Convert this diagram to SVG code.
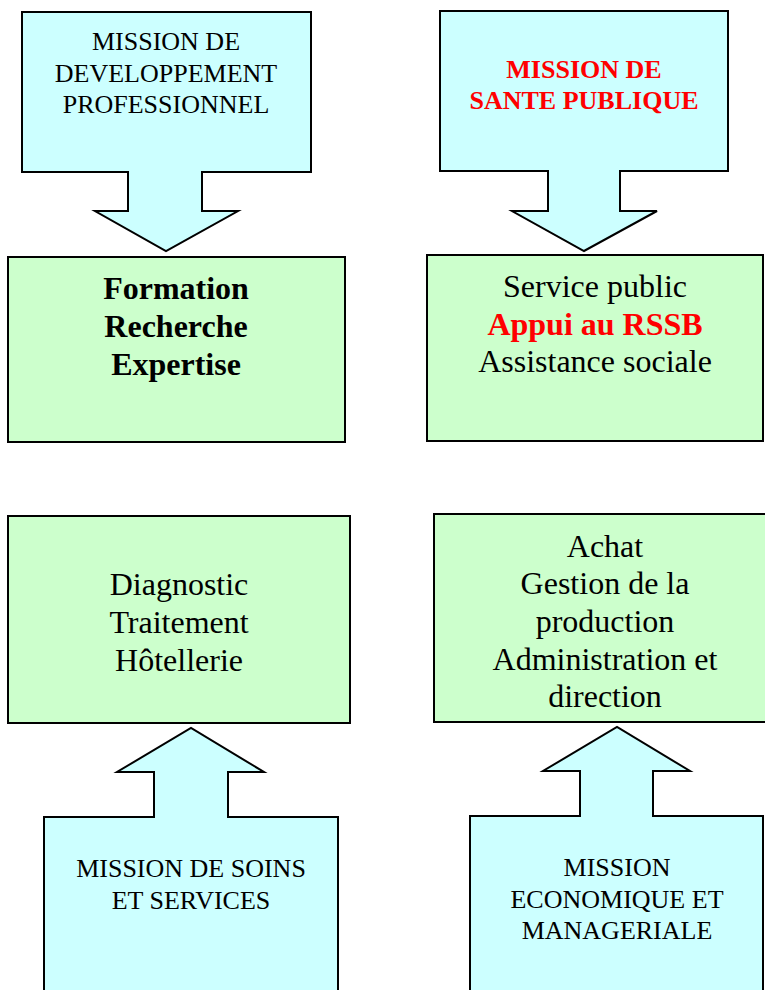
<svg xmlns="http://www.w3.org/2000/svg" width="765" height="990" viewBox="0 0 765 990">
<style>
.call{fill:#CCFFFF;stroke:#000;stroke-width:2;stroke-linejoin:miter}
.box{fill:#CCFFCC;stroke:#000;stroke-width:2}
text{font-family:"Liberation Serif","Times New Roman",serif;text-anchor:middle;fill:#000}
.m{font-size:26px}
.mb{font-size:26px;font-weight:bold;fill:#FF0000}
.g{font-size:32px}
.gb{font-size:32px;font-weight:bold}
.red{fill:#FF0000}
</style>
<rect width="765" height="990" fill="#fff"/>
<g id="mission-dev">
<path class="call" d="M22,12 H311 V172 H202 V211 H238 L166,251 L95,211 H128 V172 H22 Z"/>
<text class="m" x="166" y="50">MISSION DE</text>
<text class="m" x="166" y="82">DEVELOPPEMENT</text>
<text class="m" x="166" y="113">PROFESSIONNEL</text>
</g>
<g id="mission-sante">
<path class="call" d="M440,11 H728 V171 H620 V211 H657 L584,251 L512,211 H548 V171 H440 Z"/>
<text class="mb" x="584" y="78">MISSION DE</text>
<text class="mb" x="584" y="109">SANTE PUBLIQUE</text>
</g>
<g id="box-formation">
<rect class="box" x="8" y="257" width="337" height="185"/>
<text class="gb" x="176" y="299">Formation</text>
<text class="gb" x="176" y="337">Recherche</text>
<text class="gb" x="176" y="375">Expertise</text>
</g>
<g id="box-service">
<rect class="box" x="427" y="255" width="336" height="186"/>
<text class="g" x="595" y="297">Service public</text>
<text class="gb red" x="595" y="335">Appui au RSSB</text>
<text class="g" x="595" y="372">Assistance sociale</text>
</g>
<g id="box-diagnostic">
<rect class="box" x="8" y="516" width="342" height="207"/>
<text class="g" x="179" y="595">Diagnostic</text>
<text class="g" x="179" y="633">Traitement</text>
<text class="g" x="179" y="671">Hôtellerie</text>
</g>
<g id="box-achat">
<rect class="box" x="434" y="514" width="333" height="208"/>
<text class="g" x="605" y="557">Achat</text>
<text class="g" x="605" y="594">Gestion de la</text>
<text class="g" x="605" y="632">production</text>
<text class="g" x="605" y="670">Administration et</text>
<text class="g" x="605" y="707">direction</text>
</g>
<g id="mission-soins">
<path class="call" d="M44,995 V817 H154 V772 H117 L191,728 L264,772 H228 V817 H338 V995 Z"/>
<text class="m" x="191" y="877">MISSION DE SOINS</text>
<text class="m" x="191" y="909">ET SERVICES</text>
</g>
<g id="mission-eco">
<path class="call" d="M470,995 V816 H580 V771 H543 L617,727 L690,771 H653 V816 H763 V995 Z"/>
<text class="m" x="617" y="876">MISSION</text>
<text class="m" x="617" y="908">ECONOMIQUE ET</text>
<text class="m" x="617" y="939">MANAGERIALE</text>
</g>
<g id="connectors"></g>
</svg>
